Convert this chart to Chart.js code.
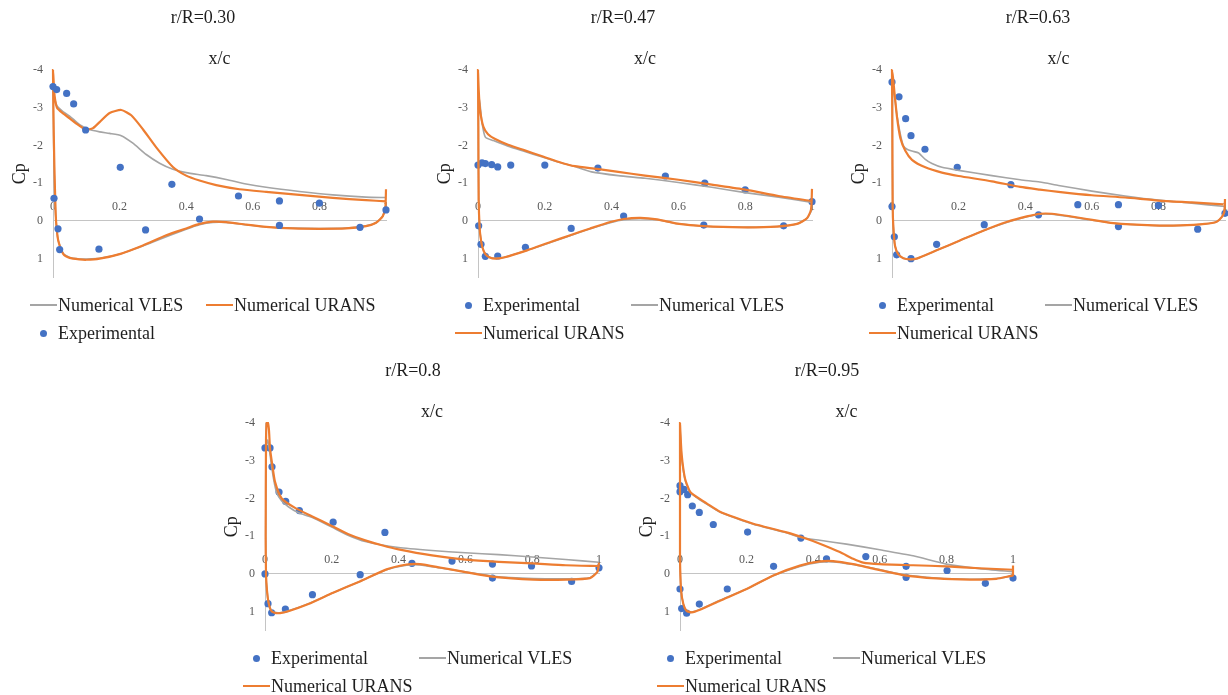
<!DOCTYPE html>
<html>
<head>
<meta charset="utf-8">
<script src="https://cdn.jsdelivr.net/npm/chart.js@4/dist/chart.umd.min.js"></script>
<style>
  html, body { margin: 0; padding: 0; background: #fff; }
  body { width: 1228px; height: 695px; overflow: hidden; position: relative; font-family: "Liberation Serif", "Times New Roman", serif; }
  canvas { position: absolute; }
  .item { position: absolute; height: 22px; display: flex; align-items: center; white-space: nowrap; font-size: 18px; line-height: 22px; color: #1e1e1e; }
  .sym { position: relative; width: 27px; height: 22px; margin-right: 1px; flex: none; }
</style>
</head>
<body>
<script>
// pressure coefficient, pairs of [x/c, Cp]
// r/R = 0.30
const exp030 = [[0,-3.56],[0.011,-3.48],[0.041,-3.38],[0.062,-3.1],[0.098,-2.41],[0.202,-1.42],[0.357,-0.97],[0.557,-0.66],[0.68,-0.53],[0.8,-0.47],[1,-0.29],
  [0.003,-0.6],[0.015,0.21],[0.02,0.76],[0.138,0.75],[0.278,0.24],[0.44,-0.05],[0.68,0.12],[0.922,0.17]];
const vles030 = [[1,-0.62],[0.94,-0.63],[0.84,-0.69],[0.74,-0.78],[0.64,-0.89],[0.58,-0.98],[0.52,-1.1],[0.46,-1.2],[0.4,-1.28],[0.36,-1.37],[0.32,-1.53],[0.28,-1.76],[0.24,-2.06],[0.205,-2.26],[0.17,-2.32],[0.14,-2.36],[0.11,-2.42],[0.08,-2.55],[0.05,-2.78],[0.03,-2.9],[0.012,-3.05],[0.004,-3.3],[0.001,-3.6],
  [0.002,-2.0],[0.006,-0.5],[0.011,0.2],[0.016,0.52],[0.031,0.86],[0.05,0.97],[0.08,1.01],[0.1,1.01],[0.14,0.99],[0.2,0.88],[0.3,0.56],[0.4,0.22],[0.44,0.1],[0.48,0.04],[0.52,0.04],[0.58,0.1],[0.64,0.16],[0.72,0.19],[0.8,0.2],[0.88,0.19],[0.94,0.13],[0.97,0.05],[0.99,-0.12],[1,-0.4]];
const urans030 = [[1,-0.52],[0.94,-0.55],[0.84,-0.61],[0.74,-0.69],[0.64,-0.77],[0.56,-0.84],[0.49,-0.95],[0.44,-1.07],[0.4,-1.2],[0.36,-1.43],[0.31,-1.95],[0.27,-2.43],[0.235,-2.8],[0.205,-2.94],[0.17,-2.86],[0.14,-2.62],[0.12,-2.46],[0.098,-2.42],[0.07,-2.58],[0.05,-2.72],[0.03,-2.85],[0.012,-3.0],[0.005,-3.3],[0.002,-3.7],[0,-4],
  [0.001,-3],[0.004,-1.5],[0.008,-0.2],[0.011,0.2],[0.016,0.53],[0.031,0.88],[0.05,0.98],[0.08,1.02],[0.1,1.03],[0.14,1.0],[0.2,0.88],[0.27,0.65],[0.34,0.38],[0.4,0.2],[0.44,0.08],[0.48,0.02],[0.52,0.03],[0.58,0.1],[0.64,0.16],[0.72,0.2],[0.8,0.21],[0.88,0.2],[0.94,0.14],[0.97,0.05],[0.99,-0.12],[0.998,-0.35],[1,-0.84]];

// r/R = 0.47
const exp047 = [[0,-1.48],[0.012,-1.54],[0.022,-1.52],[0.041,-1.49],[0.059,-1.43],[0.098,-1.48],[0.2,-1.48],[0.359,-1.4],[0.561,-1.19],[0.679,-1.0],[0.8,-0.82],[1,-0.51],
  [0.002,0.13],[0.009,0.62],[0.022,0.94],[0.059,0.93],[0.142,0.7],[0.279,0.2],[0.436,-0.13],[0.676,0.11],[0.915,0.13]];
const vles047 = [[1,-0.49],[0.9,-0.63],[0.8,-0.75],[0.7,-0.89],[0.6,-1.02],[0.5,-1.13],[0.42,-1.2],[0.34,-1.3],[0.29,-1.44],[0.24,-1.56],[0.19,-1.7],[0.14,-1.84],[0.09,-1.98],[0.046,-2.13],[0.022,-2.22],[0.012,-2.6],[0.006,-3.1],[0.002,-3.3],
  [0.001,-2.5],[0.002,-0.56],[0.005,0.2],[0.008,0.44],[0.013,0.69],[0.022,0.87],[0.035,0.96],[0.052,0.99],[0.077,0.97],[0.147,0.78],[0.217,0.57],[0.276,0.39],[0.336,0.21],[0.396,0.05],[0.436,-0.03],[0.486,-0.06],[0.536,-0.03],[0.596,0.07],[0.676,0.14],[0.795,0.17],[0.895,0.15],[0.955,0.08],[0.985,-0.07],[1,-0.3]];
const urans047 = [[0.998,-0.53],[0.9,-0.66],[0.8,-0.83],[0.7,-0.96],[0.6,-1.09],[0.5,-1.2],[0.42,-1.3],[0.356,-1.38],[0.29,-1.45],[0.24,-1.57],[0.19,-1.72],[0.14,-1.87],[0.09,-2.02],[0.05,-2.18],[0.03,-2.3],[0.016,-2.5],[0.006,-2.95],[0.002,-3.5],[0,-4],
  [0.001,-2.5],[0.002,-0.56],[0.005,0.2],[0.008,0.45],[0.013,0.7],[0.022,0.88],[0.035,0.97],[0.052,1.0],[0.077,0.97],[0.147,0.78],[0.217,0.56],[0.276,0.38],[0.336,0.2],[0.396,0.03],[0.436,-0.05],[0.486,-0.08],[0.536,-0.04],[0.596,0.07],[0.676,0.14],[0.795,0.17],[0.895,0.15],[0.955,0.08],[0.985,-0.07],[0.997,-0.3],[1,-0.85]];

// r/R = 0.63
const exp063 = [[0,-3.68],[0.021,-3.29],[0.041,-2.71],[0.057,-2.26],[0.099,-1.9],[0.196,-1.42],[0.357,-0.96],[0.558,-0.43],[0.68,-0.43],[0.8,-0.41],[1,-0.2],
  [0,-0.38],[0.007,0.42],[0.014,0.9],[0.057,1.0],[0.134,0.62],[0.277,0.1],[0.44,-0.16],[0.68,0.15],[0.918,0.22]];
const vles063 = [[1,-0.38],[0.9,-0.47],[0.8,-0.55],[0.7,-0.66],[0.6,-0.79],[0.5,-0.94],[0.444,-1.03],[0.385,-1.09],[0.3,-1.2],[0.2,-1.34],[0.15,-1.42],[0.12,-1.52],[0.1,-1.63],[0.08,-1.8],[0.06,-1.85],[0.045,-1.9],[0.034,-2.0],[0.025,-2.3],[0.015,-2.8],[0.008,-3.3],[0.003,-3.6],
  [0.001,-2.5],[0.002,-0.38],[0.004,0.15],[0.009,0.66],[0.019,0.89],[0.034,0.99],[0.054,1.02],[0.074,1.0],[0.134,0.78],[0.204,0.52],[0.274,0.26],[0.344,0.04],[0.405,-0.11],[0.445,-0.18],[0.48,-0.18],[0.53,-0.12],[0.585,-0.04],[0.665,0.06],[0.785,0.12],[0.865,0.12],[0.94,0.08],[0.975,0.02],[0.99,-0.1],[1,-0.25]];
const urans063 = [[0.995,-0.44],[0.9,-0.49],[0.8,-0.54],[0.7,-0.62],[0.6,-0.68],[0.5,-0.77],[0.444,-0.83],[0.385,-0.9],[0.3,-1.05],[0.2,-1.19],[0.15,-1.28],[0.1,-1.42],[0.06,-1.62],[0.04,-1.86],[0.025,-2.2],[0.015,-2.75],[0.008,-3.35],[0.003,-3.8],[0,-4],
  [0.001,-2.5],[0.002,-0.38],[0.004,0.15],[0.009,0.66],[0.019,0.89],[0.034,0.99],[0.054,1.02],[0.074,1.0],[0.134,0.78],[0.204,0.52],[0.274,0.26],[0.344,0.03],[0.405,-0.12],[0.445,-0.19],[0.48,-0.19],[0.53,-0.13],[0.585,-0.05],[0.665,0.06],[0.785,0.12],[0.865,0.12],[0.94,0.08],[0.975,0.02],[0.99,-0.1],[0.998,-0.25],[1,-0.58]];

// r/R = 0.8
const exp080 = [[0,-3.34],[0.015,-3.34],[0.021,-2.84],[0.042,-2.17],[0.062,-1.92],[0.103,-1.68],[0.204,-1.37],[0.359,-1.1],[0.56,-0.34],[0.681,-0.26],[0.798,-0.21],[1,-0.16],
  [0,0],[0.009,0.79],[0.02,1.03],[0.061,0.93],[0.142,0.55],[0.285,0.02],[0.44,-0.28],[0.681,0.11],[0.918,0.2]];
const vles080 = [[1,-0.31],[0.9,-0.38],[0.8,-0.45],[0.7,-0.51],[0.6,-0.56],[0.5,-0.62],[0.4,-0.7],[0.3,-0.86],[0.25,-1.02],[0.2,-1.24],[0.14,-1.5],[0.1,-1.62],[0.07,-1.78],[0.05,-1.93],[0.035,-2.15],[0.026,-2.5],[0.019,-2.9],[0.013,-3.3],[0.008,-3.55],[0.004,-3.4],
  [0.002,-1.0],[0.003,0.0],[0.006,0.45],[0.011,0.78],[0.018,0.96],[0.028,1.02],[0.045,1.03],[0.07,0.98],[0.13,0.79],[0.204,0.5],[0.284,0.2],[0.364,-0.11],[0.424,-0.23],[0.464,-0.24],[0.524,-0.16],[0.604,-0.05],[0.684,0.06],[0.804,0.12],[0.903,0.13],[0.973,0.1],[0.995,-0.05],[1,-0.2]];
const urans080 = [[1,-0.21],[0.9,-0.23],[0.8,-0.28],[0.7,-0.32],[0.6,-0.38],[0.5,-0.49],[0.4,-0.65],[0.35,-0.76],[0.3,-0.89],[0.25,-1.05],[0.2,-1.27],[0.14,-1.53],[0.09,-1.75],[0.05,-2.0],[0.03,-2.44],[0.022,-2.88],[0.015,-3.33],[0.012,-3.8],[0.009,-4.0],[0.005,-4.0],[0.003,-3.5],
  [0.002,-1.0],[0.003,0.0],[0.006,0.45],[0.011,0.78],[0.018,0.97],[0.028,1.03],[0.045,1.04],[0.07,0.99],[0.13,0.8],[0.204,0.5],[0.284,0.2],[0.364,-0.12],[0.424,-0.25],[0.464,-0.26],[0.524,-0.17],[0.604,-0.04],[0.684,0.08],[0.804,0.15],[0.903,0.15],[0.973,0.11],[0.995,-0.05],[1,-0.3]];

// r/R = 0.95
const exp095 = [[0,-2.34],[0,-2.18],[0.012,-2.24],[0.023,-2.1],[0.037,-1.8],[0.058,-1.63],[0.1,-1.31],[0.203,-1.11],[0.363,-0.95],[0.558,-0.46],[0.679,-0.2],[0.802,-0.09],[1,0.11],
  [0,0.4],[0.005,0.92],[0.02,1.04],[0.058,0.8],[0.142,0.4],[0.281,-0.2],[0.44,-0.4],[0.679,0.09],[0.917,0.25]];
const vles095 = [[1,-0.06],[0.9,-0.14],[0.8,-0.26],[0.7,-0.48],[0.6,-0.64],[0.5,-0.79],[0.42,-0.89],[0.36,-0.97],[0.32,-1.09],[0.22,-1.32],[0.17,-1.47],[0.12,-1.64],[0.08,-1.85],[0.05,-2.02],[0.03,-2.18],[0.015,-2.5],[0.005,-3.1],[0.001,-3.7],[0,-3.9],
  [0,-2.5],[0,-0.49],[0.003,0.4],[0.01,0.8],[0.02,0.97],[0.035,1.01],[0.06,0.94],[0.12,0.7],[0.2,0.4],[0.28,0.05],[0.36,-0.2],[0.42,-0.31],[0.46,-0.32],[0.52,-0.25],[0.58,-0.15],[0.67,0.02],[0.77,0.11],[0.87,0.14],[0.95,0.12],[0.99,0.06],[1,0.0]];
const urans095 = [[1,-0.11],[0.9,-0.15],[0.8,-0.2],[0.7,-0.23],[0.6,-0.26],[0.55,-0.3],[0.52,-0.4],[0.48,-0.58],[0.42,-0.8],[0.38,-0.93],[0.32,-1.1],[0.22,-1.33],[0.17,-1.48],[0.12,-1.65],[0.08,-1.87],[0.05,-2.04],[0.03,-2.18],[0.015,-2.53],[0.005,-3.16],[0.001,-3.8],[0,-4],
  [0,-2.5],[0,-0.49],[0.003,0.4],[0.01,0.8],[0.02,0.98],[0.035,1.02],[0.06,0.95],[0.12,0.71],[0.2,0.4],[0.28,0.04],[0.36,-0.22],[0.42,-0.33],[0.46,-0.34],[0.52,-0.26],[0.58,-0.14],[0.67,0.03],[0.77,0.12],[0.87,0.15],[0.95,0.13],[0.99,0.06],[1,0.04],[1,-0.22]];

const seriesNames = { exp: 'Experimental', vles: 'Numerical VLES', urans: 'Numerical URANS' };
const xTickStep = 0.2;
const yTickStep = 1;

const SERIF = '"Liberation Serif", "Times New Roman", serif';
const BLUE = '#4472C4', GRAY = '#A5A5A5', ORANGE = '#ED7D31';
const AXIS = '#c4c4c4', TICK = '#595959', TEXT = '#1e1e1e';

const panels = [
  { title: 'r/R=0.30', left: 0,   top: 0,   width: 406, right: 20, legendX: 30,  order: ['vles','urans','exp'], rows: [['vles','urans'],['exp']], data: { exp: exp030, vles: vles030, urans: urans030 } },
  { title: 'r/R=0.47', left: 425, top: 0,   width: 396, right: 9,  legendX: 455, order: ['exp','vles','urans'], rows: [['exp','vles'],['urans']], data: { exp: exp047, vles: vles047, urans: urans047 } },
  { title: 'r/R=0.63', left: 839, top: 0,   width: 398, right: 12, legendX: 869, order: ['exp','vles','urans'], rows: [['exp','vles'],['urans']], data: { exp: exp063, vles: vles063, urans: urans063 } },
  { title: 'r/R=0.8',  left: 212, top: 353, width: 402, right: 15, legendX: 243, order: ['exp','vles','urans'], rows: [['exp','vles'],['urans']], data: { exp: exp080, vles: vles080, urans: urans080 } },
  { title: 'r/R=0.95', left: 627, top: 353, width: 400, right: 14, legendX: 657, order: ['exp','vles','urans'], rows: [['exp','vles'],['urans']], data: { exp: exp095, vles: vles095, urans: urans095 } }
];

const looks = {
  exp:   { showLine: false, pointRadius: 3.6, pointHoverRadius: 3.6, backgroundColor: BLUE, borderColor: BLUE, pointBorderWidth: 0, borderWidth: 0 },
  vles:  { showLine: true, pointRadius: 0, borderColor: GRAY, backgroundColor: GRAY, borderWidth: 1.6, tension: 0.2 },
  urans: { showLine: true, pointRadius: 0, borderColor: ORANGE, backgroundColor: ORANGE, borderWidth: 2.2, tension: 0.2 }
};

const H = 300;

function drawPanel(p) {
  const canvas = document.createElement('canvas');
  canvas.width = p.width;
  canvas.height = H;
  canvas.style.left = p.left + 'px';
  canvas.style.top = p.top + 'px';
  document.body.appendChild(canvas);

  const datasets = p.order.map((key, i) => Object.assign({
    key: key,
    label: seriesNames[key],
    data: p.data[key].map(([x, y]) => ({ x, y })),
    order: p.order.length - i,
    clip: false
  }, looks[key]));

  const chart = new Chart(canvas, {
    type: 'scatter',
    data: { datasets },
    options: {
      responsive: false,
      animation: false,
      devicePixelRatio: 1,
      layout: { padding: { top: 0, left: 0, right: 0, bottom: H - 277.5 } },
      plugins: {
        legend: { display: false },
        tooltip: { enabled: false },
        title: {
          display: true, text: p.title, color: TEXT,
          font: { family: SERIF, size: 18, weight: 'normal' },
          padding: { top: 7.2, bottom: 0 }
        }
      },
      scales: {
        x: {
          type: 'linear', axis: 'x', position: { y: 0 }, min: 0, max: 1,
          grid: { display: false, drawTicks: false },
          border: { display: true, color: AXIS, width: 1 },
          ticks: {
            stepSize: xTickStep, padding: -21, color: TICK, font: { family: SERIF, size: 12 },
            callback: v => String(Math.round(v * 10) / 10)
          }
        },
        xt: {
          type: 'linear', axis: 'x', position: 'top', min: 0, max: 1,
          grid: { display: false, drawTicks: false },
          border: { display: false },
          ticks: { display: false },
          title: { display: true, text: 'x/c', color: TEXT, font: { family: SERIF, size: 18 }, padding: { top: 19.4, bottom: 0 } },
          afterFit: s => { s.height = 70 - 28.8; }
        },
        y: {
          type: 'linear', axis: 'y', position: 'left', reverse: true, min: -4, max: 1.5,
          grid: { display: false, drawTicks: false },
          border: { display: true, color: AXIS, width: 1 },
          ticks: { stepSize: yTickStep, padding: 10, color: TICK, font: { family: SERIF, size: 12 } },
          title: { display: true, text: 'Cp', color: TEXT, font: { family: SERIF, size: 18 }, padding: { top: 9, bottom: 0 } },
          afterBuildTicks: s => { s.ticks = s.ticks.filter(t => Number.isInteger(t.value)); },
          afterFit: s => { s.width = 53; }
        },
        yr: {
          type: 'linear', axis: 'y', position: 'right',
          grid: { display: false, drawTicks: false },
          border: { display: false },
          ticks: { display: false },
          afterFit: s => { s.width = p.right; }
        }
      }
    }
  });

  // legend laid out like the spreadsheet one: two columns, two rows
  p.rows.forEach((row, r) => {
    row.forEach((key, c) => {
      const ds = chart.data.datasets.find(d => d.key === key);
      const item = document.createElement('div');
      item.className = 'item';
      item.style.left = (p.legendX + c * 176) + 'px';
      item.style.top = (p.top + 305 + r * 28 - 11) + 'px';
      const sym = document.createElement('span');
      sym.className = 'sym';
      const mark = document.createElement('span');
      if (ds.showLine) {
        mark.style.cssText = 'position:absolute;left:0;width:27px;top:' + (11 - ds.borderWidth / 2) + 'px;height:' + ds.borderWidth + 'px;background:' + ds.borderColor;
      } else {
        mark.style.cssText = 'position:absolute;left:10px;top:7.5px;width:7px;height:7px;border-radius:50%;background:' + ds.backgroundColor;
      }
      sym.appendChild(mark);
      const txt = document.createElement('span');
      txt.textContent = ds.label;
      item.appendChild(sym);
      item.appendChild(txt);
      document.body.appendChild(item);
    });
  });
}

panels.forEach(drawPanel);
</script>
</body>
</html>
